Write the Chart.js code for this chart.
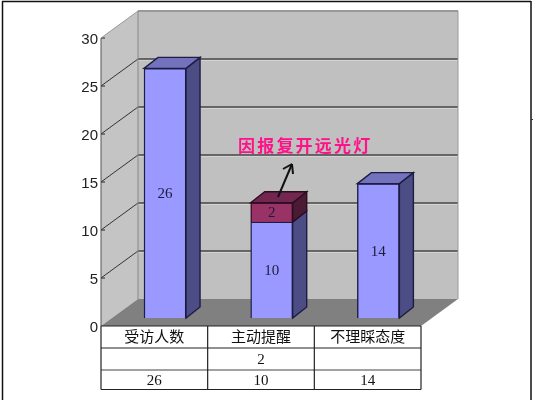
<!DOCTYPE html>
<html>
<head>
<meta charset="utf-8">
<style>
  html, body { margin: 0; padding: 0; background: #fff; }
  #box { width: 533px; height: 400px; }
</style>
<script src="https://cdn.jsdelivr.net/npm/chart.js@4"></script>
</head>
<body>
<div id="box"><canvas id="chart" width="533" height="400"></canvas></div>
<script>
const categories = ['受访人数', '主动提醒', '不理睬态度'];
const lowerValues = [26, 10, 14];
const upperValues = [null, 2, null];
const yTicks = [0, 5, 10, 15, 20, 25, 30];
const note = '因报复开远光灯';

const CJK = '"Noto Sans CJK SC", sans-serif';
const DIGITS = '"Liberation Serif", serif';
const AXIS = '"Liberation Sans", sans-serif';

// 3d look: how far the back wall and the bar depth are shifted
const wallDx = 37, wallDy = -27;
const barDx = 14, barDy = -11;
const barShiftX = 10.7, barShiftY = -8;

function poly(ctx, pts, fill, stroke) {
  ctx.beginPath();
  pts.forEach((p, i) => i ? ctx.lineTo(p[0], p[1]) : ctx.moveTo(p[0], p[1]));
  ctx.closePath();
  if (fill) { ctx.fillStyle = fill; ctx.fill(); }
  if (stroke) { ctx.strokeStyle = stroke; ctx.lineWidth = 1.4; ctx.stroke(); }
}

function line(ctx, x1, y1, x2, y2, color, width) {
  ctx.beginPath();
  ctx.moveTo(x1, y1);
  ctx.lineTo(x2, y2);
  ctx.strokeStyle = color;
  ctx.lineWidth = width || 1;
  ctx.stroke();
}

const walls = {
  id: 'walls',
  beforeDatasetsDraw(chart) {
    const ctx = chart.ctx, a = chart.chartArea, y = chart.scales.y;
    const l = a.left, r = a.right, t = a.top, b = a.bottom;
    poly(ctx, [[l, t], [l + wallDx, t + wallDy], [l + wallDx, b + wallDy], [l, b]], '#c4c4c4');
    poly(ctx, [[l + wallDx, t + wallDy], [r + wallDx, t + wallDy], [r + wallDx, b + wallDy], [l + wallDx, b + wallDy]], '#c0c0c0');
    poly(ctx, [[l, b], [l + wallDx, b + wallDy], [r + wallDx, b + wallDy], [r, b]], '#808080');

    yTicks.forEach(v => {
      const py = y.getPixelForValue(v);
      if (v > 0 && v < 30) {
        line(ctx, l, py, l + wallDx, py + wallDy, '#333', 1);
        line(ctx, l + wallDx, py + wallDy + 1, r + wallDx, py + wallDy + 1, '#e4e4e4', 1);
        line(ctx, l + wallDx, py + wallDy, r + wallDx, py + wallDy, '#444', 1.4);
      }
      if (v > 0) line(ctx, l, py, l + 4, py, '#222', 1);
    });

    line(ctx, l, t, l + wallDx, t + wallDy, '#999', 1);
    line(ctx, l + wallDx, t + wallDy, r + wallDx, t + wallDy, '#999', 2);
    line(ctx, r + wallDx, t + wallDy, r + wallDx, b + wallDy, '#999', 1);
    line(ctx, l + wallDx, t + wallDy, l + wallDx, b + wallDy, '#888', 1);
    line(ctx, l, t, l, b, '#555', 1);

    // bars sit a little behind the front edge of the floor
    ctx.save();
    ctx.translate(barShiftX, barShiftY);
  },
  afterDatasetsDraw(chart) {
    const ctx = chart.ctx;
    const faces = [
      { side: '#4d4d85', top: '#7373bd', edge: '#1c1c44' },
      { side: '#4d1a35', top: '#73264f', edge: '#2a0e20' }
    ];
    chart.data.datasets.forEach((ds, di) => {
      chart.getDatasetMeta(di).data.forEach((bar, i) => {
        if (ds.data[i] === null) return;
        const f = faces[di];
        const x1 = bar.x - bar.width / 2, x2 = bar.x + bar.width / 2;
        poly(ctx, [[x2, bar.y], [x2 + barDx, bar.y + barDy], [x2 + barDx, bar.base + barDy], [x2, bar.base]], f.side, f.edge);
        const covered = di === 0 && upperValues[i] !== null;
        if (!covered) {
          poly(ctx, [[x1, bar.y], [x1 + barDx, bar.y + barDy], [x2 + barDx, bar.y + barDy], [x2, bar.y]], f.top, f.edge);
        }
        ctx.fillStyle = '#1c1c3c';
        ctx.font = '15px ' + DIGITS;
        ctx.textAlign = 'center';
        ctx.textBaseline = 'middle';
        ctx.fillText(String(ds.data[i]), bar.x, (bar.y + bar.base) / 2 + 1);
      });
    });
    ctx.restore();
  },
  afterDraw(chart) {
    const ctx = chart.ctx, a = chart.chartArea;
    const x = chart.scales.x;
    const rows = [a.bottom, 348, 370, 389.5];

    // data table under the chart
    ctx.fillStyle = '#111';
    ctx.font = '15px ' + DIGITS;
    ctx.textAlign = 'center';
    ctx.textBaseline = 'middle';
    categories.forEach((c, i) => {
      const cx = x.getPixelForValue(i);
      if (upperValues[i] !== null) ctx.fillText(String(upperValues[i]), cx, (rows[1] + rows[2]) / 2 + 1);
      ctx.fillText(String(lowerValues[i]), cx, (rows[2] + rows[3]) / 2 + 1);
    });
    rows.forEach((ry, i) => line(ctx, a.left, ry, a.right, ry, i === 2 ? '#444' : '#222', 1.2));
    const step = (a.right - a.left) / categories.length;
    for (let i = 0; i <= categories.length; i++) {
      line(ctx, a.left + i * step, a.bottom, a.left + i * step, rows[3], '#222', 1.2);
    }

    // the pink note and its arrow
    ctx.fillStyle = '#ff1289';
    ctx.font = 'bold 17px ' + CJK;
    ctx.textAlign = 'left';
    ctx.letterSpacing = '2.2px';
    ctx.fillText(note, 238, 146);
    ctx.letterSpacing = '0px';
    line(ctx, 278, 197, 292, 164, '#111', 2);
    line(ctx, 292, 164, 283, 169, '#111', 2);
    line(ctx, 292, 164, 293, 174, '#111', 2);

    // frame of the screenshot
    line(ctx, 2.5, 1.5, 2.5, 400, '#111', 1.5);
    line(ctx, 2, 1.5, 531, 1.5, '#111', 1.5);
    line(ctx, 531, 1, 531, 400, '#111', 1.5);
    line(ctx, 531, 119.5, 533, 119.5, '#333', 1);
  }
};

new Chart(document.getElementById('chart'), {
  type: 'bar',
  data: {
    labels: categories,
    datasets: [
      { data: lowerValues, backgroundColor: '#9999ff', borderColor: '#1c1c44', borderWidth: 1.4, barThickness: 42, clip: false },
      { data: upperValues, backgroundColor: '#993366', borderColor: '#2a0e20', borderWidth: 1.4, barThickness: 42, clip: false }
    ]
  },
  options: {
    responsive: false,
    animation: false,
    layout: { padding: { top: 38, right: 112, left: 0, bottom: 0 } },
    plugins: { legend: { display: false }, tooltip: { enabled: false }, title: { display: false } },
    scales: {
      x: {
        stacked: true,
        grid: { display: false, drawTicks: false },
        border: { display: false },
        ticks: { color: '#111', font: { family: CJK, size: 15 }, padding: 1, maxRotation: 0 },
        afterFit(s) { s.height = 74; }
      },
      y: {
        stacked: true,
        min: 0,
        max: 30,
        grid: { display: false, drawTicks: false },
        border: { display: false },
        ticks: { stepSize: 5, color: '#222', font: { family: AXIS, size: 15 }, padding: 3, labelOffset: 2 },
        afterFit(s) { s.width = 101; }
      }
    }
  },
  plugins: [walls]
});
</script>
</body>
</html>
